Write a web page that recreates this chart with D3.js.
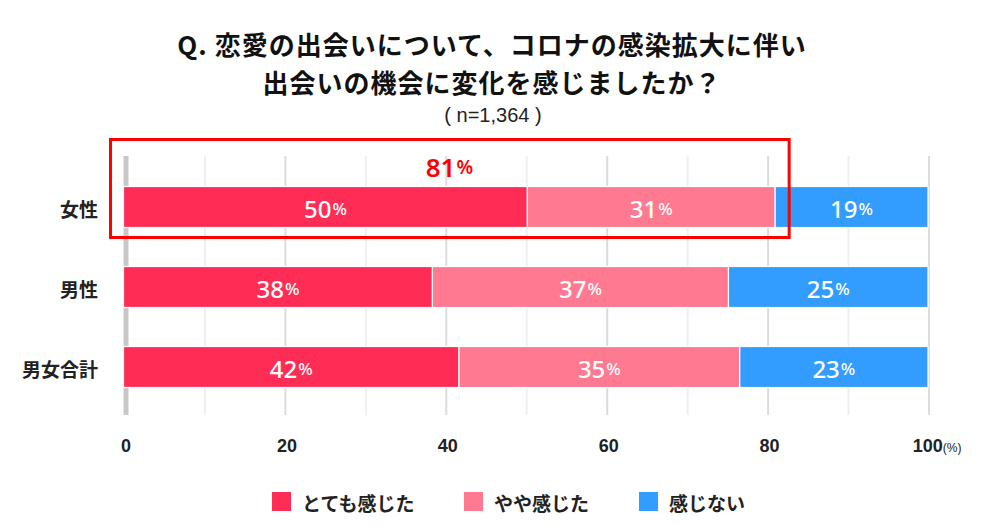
<!DOCTYPE html>
<html><head><meta charset="utf-8">
<script src="https://cdn.jsdelivr.net/npm/d3@7"></script>
<style>
html,body{margin:0;padding:0;background:#fff;}
svg{display:block;}
</style></head>
<body>
<svg id="chart" width="984" height="527"></svg>
<script>
const categories = ["女性", "男性", "男女合計"];
const seriesNames = ["とても感じた", "やや感じた", "感じない"];
const strongly = [50.2, 38.4, 41.7];
const somewhat = [30.8, 36.8, 34.9];
const notFelt = [19.0, 24.8, 23.4];
const seriesColors = ["#FF2D55", "#FF7990", "#339CFF"];
const tickValues = [0, 20, 40, 60, 80, 100];
const gridValues = [10, 20, 30, 40, 50, 60, 70, 80, 90, 100];
const titleLines = ["Q. 恋愛の出会いについて、コロナの感染拡大に伴い", "出会いの機会に変化を感じましたか？"];
const subtitle = "( n=1,364 )";

const JP = "'Noto Sans CJK JP','Noto Sans',sans-serif";
const NUM = "'Noto Sans','Open Sans',sans-serif";
const AX = "'Liberation Sans',Arial,sans-serif";

const svg = d3.select("#chart");
const x = d3.scaleLinear().domain([0, 100]).range([123.5, 928]);
const y = d3.scalePoint().domain(categories).range([207, 367]);
const barH = 41;
const gridTop = 156, gridBottom = 415;

const rows = categories.map((c, i) => ({cat: c, vals: [strongly[i], somewhat[i], notFelt[i]]}));
const stacked = d3.stack().keys([0, 1, 2]).value((d, k) => d.vals[k])(rows);

// Title
svg.append("g").selectAll("text").data(titleLines).join("text")
  .attr("x", 492).attr("y", (d, i) => 43 + i * 38)
  .attr("text-anchor", "middle").attr("dominant-baseline", "central")
  .attr("font-family", JP).attr("font-weight", 700).attr("font-size", 26)
  .attr("letter-spacing", 1)
  .attr("fill", "#111").text(d => d);
svg.append("text").attr("x", 493).attr("y", 115)
  .attr("text-anchor", "middle").attr("dominant-baseline", "central")
  .attr("font-family", AX).attr("font-size", 20).attr("fill", "#222").text(subtitle);

// Grid
svg.append("g").selectAll("line").data(gridValues).join("line")
  .attr("x1", d => x(d) + 1).attr("x2", d => x(d) + 1)
  .attr("y1", gridTop).attr("y2", gridBottom)
  .attr("stroke", d => d % 20 === 0 ? "#dcdcdc" : "#efefef")
  .attr("stroke-width", 2);
svg.append("line").attr("x1", x(0) + 2.5).attr("x2", x(0) + 2.5)
  .attr("y1", gridTop).attr("y2", gridBottom)
  .attr("stroke", "#c8c8c8").attr("stroke-width", 5);

// Bars
const layer = svg.append("g").selectAll("g").data(stacked).join("g")
  .attr("fill", d => seriesColors[d.key]);
layer.selectAll("rect").data(d => d).join("rect")
  .attr("x", d => x(d[0])).attr("width", d => x(d[1]) - x(d[0]))
  .attr("y", d => y(d.data.cat) - barH / 2).attr("height", barH)
  .attr("stroke", "#fff").attr("stroke-width", 1.2);

// Bar labels
const lbl = svg.append("g");
stacked.forEach(s => {
  s.forEach(d => {
    const t = lbl.append("text")
      .attr("x", x((d[0] + d[1]) / 2)).attr("y", y(d.data.cat) + 1)
      .attr("text-anchor", "middle").attr("dominant-baseline", "central")
      .attr("font-family", NUM).attr("font-weight", 500).attr("fill", "#fff");
    t.append("tspan").attr("font-size", 24).text(Math.round(d[1] - d[0]));
    t.append("tspan").attr("font-size", 17).attr("dx", 1).text("%");
  });
});

// Highlight of 女性 total
const hl = stacked[1][0];
const ht = svg.append("text")
  .attr("x", x(hl[1] / 2)).attr("y", y(categories[0]) - 40)
  .attr("text-anchor", "middle").attr("dominant-baseline", "central")
  .attr("font-family", NUM).attr("font-weight", 600).attr("fill", "#F00");
ht.append("tspan").attr("font-size", 26).text(Math.round(hl[1]));
ht.append("tspan").attr("font-size", 19).attr("dx", 1).text("%");
svg.append("rect")
  .attr("x", x(0) - 13).attr("y", y(categories[0]) - barH / 2 - 47)
  .attr("width", x(hl[1]) + 14 - (x(0) - 13))
  .attr("height", barH + 47 + 10)
  .attr("fill", "none").attr("stroke", "#F00").attr("stroke-width", 3);

// Category labels
svg.append("g").selectAll("text").data(categories).join("text")
  .attr("x", 98).attr("y", d => y(d) + 1)
  .attr("text-anchor", "end").attr("dominant-baseline", "central")
  .attr("font-family", JP).attr("font-weight", 700).attr("font-size", 19)
  .attr("fill", "#222").text(d => d);

// X axis
const axis = svg.append("g").attr("transform", "translate(0,434)")
  .call(d3.axisBottom(x).tickValues(tickValues).tickSize(0).tickPadding(0).tickFormat(d3.format("d")));
axis.select(".domain").remove();
axis.selectAll("text").attr("font-family", AX).attr("font-weight", 700)
  .attr("font-size", 18).attr("fill", "#222").attr("dy", "1em").attr("dx", 2);
axis.selectAll(".tick").filter(d => d === 100).select("text")
  .attr("text-anchor", "end").attr("dx", 33)
  .append("tspan").attr("font-size", 12).attr("font-weight", 400).text("(%)");

// Legend
const legX = [272, 464, 639];
const leg = svg.append("g").selectAll("g").data(seriesNames).join("g")
  .attr("transform", (d, i) => `translate(${legX[i]},492)`);
leg.append("rect").attr("width", 19).attr("height", 19).attr("fill", (d, i) => seriesColors[i]);
leg.append("text").attr("x", 30).attr("y", 10)
  .attr("dominant-baseline", "central")
  .attr("font-family", JP).attr("font-weight", 700).attr("font-size", 19)
  .attr("fill", "#222").text(d => d);
</script>
</body></html>
